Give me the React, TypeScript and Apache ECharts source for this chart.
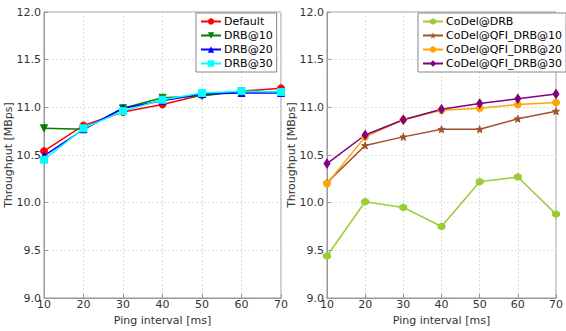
import React, { useEffect, useRef } from "react";
import * as echarts from "echarts";

const pingIntervals = [10, 20, 30, 40, 50, 60, 70];

const defaultVals = [10.54, 10.81, 10.95, 11.03, 11.13, 11.17, 11.2];
const drb10 = [10.78, 10.77, 10.99, 11.1, 11.12, 11.17, 11.16];
const drb20 = [10.49, 10.77, 10.99, 11.07, 11.14, 11.15, 11.15];
const drb30 = [10.45, 10.78, 10.96, 11.08, 11.15, 11.17, 11.16];

const codelDrb = [9.44, 10.01, 9.95, 9.75, 10.22, 10.27, 9.88];
const codelQfi10 = [10.21, 10.6, 10.69, 10.77, 10.77, 10.88, 10.96];
const codelQfi20 = [10.2, 10.69, 10.87, 10.97, 10.99, 11.03, 11.05];
const codelQfi30 = [10.41, 10.71, 10.87, 10.98, 11.04, 11.09, 11.14];

const leftNames = ["Default", "DRB@10", "DRB@20", "DRB@30"];
const rightNames = ["CoDel@DRB", "CoDel@QFI_DRB@10", "CoDel@QFI_DRB@20", "CoDel@QFI_DRB@30"];

const HEX = "path://M0,-10 L8.66,-5 L8.66,5 L0,10 L-8.66,5 L-8.66,-5 Z";
const STAR =
  "path://M0,-10 L2.35,-3.24 L9.51,-3.09 L3.8,1.24 L5.88,8.09 L0,4 L-5.88,8.09 L-3.8,1.24 L-9.51,-3.09 L-2.35,-3.24 Z";

const FONT = "DejaVu Sans";

export default function App() {
  const ref = useRef<HTMLDivElement>(null);
  useEffect(() => {
    if (!ref.current) return;
    const chart = echarts.init(ref.current, undefined, { renderer: "svg" });
    const pair = (arr: number[]) => pingIntervals.map((x, i) => [x, arr[i]]);
    const axisLabel = { color: "#333", fontSize: 11, fontFamily: FONT };
    const xAxisBase = (gi: number) => ({
      type: "value" as const,
      gridIndex: gi,
      min: 10,
      max: 70,
      interval: 10,
      name: "Ping interval [ms]",
      nameLocation: "middle" as const,
      nameGap: 17,
      nameMoveOverlap: false,
      nameTextStyle: { color: "#333", fontSize: 11, fontFamily: FONT },
      axisLine: { show: true, lineStyle: { color: "#999" } },
      axisTick: { show: true, inside: true, length: 4, lineStyle: { color: "#999" } },
      axisLabel: { ...axisLabel, margin: 1 },
      splitLine: { show: true, lineStyle: { color: "#ddd", type: [2, 2] as any } },
    });
    const yAxisBase = (gi: number) => ({
      type: "value" as const,
      gridIndex: gi,
      min: 9,
      max: 12,
      interval: 0.5,
      name: "Throughput [MBps]",
      nameLocation: "middle" as const,
      nameGap: 30,
      nameMoveOverlap: false,
      nameTextStyle: { color: "#333", fontSize: 11, fontFamily: FONT },
      axisLine: { show: true, lineStyle: { color: "#999" } },
      axisTick: { show: true, inside: true, length: 4, lineStyle: { color: "#999" } },
      axisLabel: { ...axisLabel, margin: 3, formatter: (v: number) => v.toFixed(1) },
      splitLine: { show: true, lineStyle: { color: "#ddd", type: [2, 2] as any } },
    });
    const line = (
      name: string,
      data: number[],
      color: string,
      symbol: string,
      gi: number,
      extra: any = {}
    ) => ({
      type: "line",
      name,
      xAxisIndex: gi,
      yAxisIndex: gi,
      data: pair(data),
      symbol,
      symbolSize: 7,
      lineStyle: { color, width: 1.5 },
      itemStyle: { color, borderColor: color },
      ...extra,
    });
    const legendBase = {
      orient: "vertical" as const,
      top: 13,
      itemWidth: 20,
      itemHeight: 8,
      itemGap: 3,
      padding: [3, 4, 3, 4],
      borderColor: "#888",
      borderWidth: 1,
      backgroundColor: "#fff",
      textStyle: { color: "#000", fontSize: 11, fontFamily: FONT, padding: [0, 0, 0, -2] },
    };
    chart.setOption({
      animation: false,
      backgroundColor: "#fff",
      textStyle: { fontFamily: FONT },
      grid: [
        { left: 44, top: 12, width: 237, height: 295, show: true, borderColor: "#999", borderWidth: 1 },
        { left: 327, top: 12, width: 237, height: 295, show: true, borderColor: "#999", borderWidth: 1 },
      ],
      xAxis: [xAxisBase(0), xAxisBase(1)],
      yAxis: [yAxisBase(0), yAxisBase(1)],
      legend: [
        { ...legendBase, left: 196, data: leftNames },
        { ...legendBase, left: 418, data: rightNames },
      ],
      series: [
        line(leftNames[0], defaultVals, "#ff0000", "circle", 0),
        line(leftNames[1], drb10, "#007f00", "triangle", 0, { symbolRotate: 180 }),
        line(leftNames[2], drb20, "#0000ff", "triangle", 0),
        line(leftNames[3], drb30, "#00ffff", "rect", 0),
        line(rightNames[0], codelDrb, "#9acd32", HEX, 1),
        line(rightNames[1], codelQfi10, "#a0522d", STAR, 1),
        line(rightNames[2], codelQfi20, "#ffa500", "circle", 1),
        line(rightNames[3], codelQfi30, "#800080", "diamond", 1, { symbolSize: [6, 9] }),
      ],
    });
    return () => chart.dispose();
  }, []);
  return (
    <div
      ref={ref}
      style={{ position: "fixed", left: 0, top: 0, width: 566, height: 331 }}
    />
  );
}
